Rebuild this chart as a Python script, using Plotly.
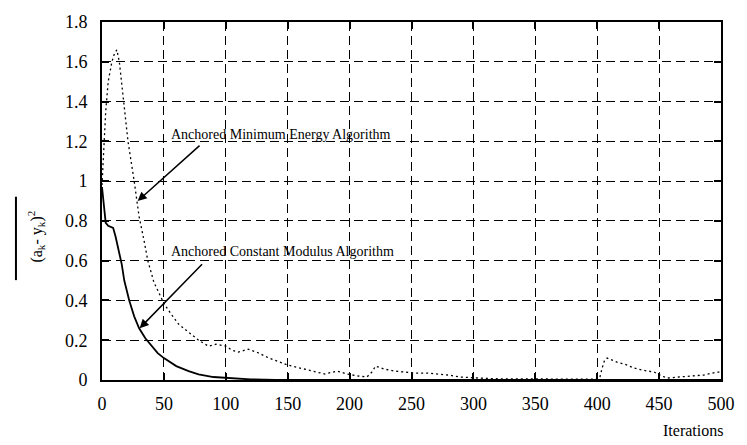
import plotly.graph_objects as go

# Anchored Minimum Energy Algorithm (dotted trace)
ame_iter = [0, 1, 2, 3, 5, 8, 10, 12, 14, 17, 21, 26, 30, 34, 37, 42, 50, 56, 62, 70,
            78, 86, 92, 100, 105, 110, 118, 125, 135, 150, 160, 170, 180, 190, 198,
            207, 214, 218, 221, 228, 236, 244, 252, 262, 270, 280, 289, 300, 310, 320,
            342, 360, 380, 395, 400, 402, 404, 406, 408, 412, 416, 422, 430, 436, 446,
            452, 457, 466, 476, 486, 497, 500]
ame_err = [0.98, 1.1, 1.25, 1.35, 1.5, 1.6, 1.64, 1.66, 1.6, 1.42, 1.2, 1.0, 0.82, 0.7,
           0.6, 0.49, 0.385, 0.33, 0.28, 0.24, 0.20, 0.17, 0.18, 0.17, 0.15, 0.14, 0.155,
           0.14, 0.11, 0.075, 0.06, 0.045, 0.03, 0.045, 0.03, 0.02, 0.015, 0.04, 0.07,
           0.055, 0.045, 0.04, 0.035, 0.035, 0.03, 0.025, 0.015, 0.01, 0.008, 0.006,
           0.005, 0.004, 0.005, 0.004, 0.006, 0.01, 0.06, 0.1, 0.11, 0.1, 0.09, 0.08,
           0.06, 0.05, 0.04, 0.02, 0.01, 0.015, 0.02, 0.025, 0.04, 0.04]

# Anchored Constant Modulus Algorithm (solid trace)
acm_iter = [0, 1, 2, 3, 5, 9, 11, 13, 16, 18, 22, 26, 30, 35, 40, 45, 50, 60, 70, 78,
            90, 100, 110, 120, 140, 200, 300, 400, 500]
acm_err = [0.97, 0.9, 0.82, 0.79, 0.775, 0.765, 0.72, 0.66, 0.58, 0.5, 0.4, 0.32, 0.26,
           0.21, 0.17, 0.135, 0.11, 0.07, 0.045, 0.028, 0.015, 0.01, 0.005, 0.003,
           0.001, 0.0, 0.0, 0.0, 0.0]

x_ticks = [0, 50, 100, 150, 200, 250, 300, 350, 400, 450, 500]
y_ticks = [0, 0.2, 0.4, 0.6, 0.8, 1, 1.2, 1.4, 1.6, 1.8]
y_tick_text = ["0", "0.2", "0.4", "0.6", "0.8", "1", "1.2", "1.4", "1.6", "1.8"]

FONT = "Times New Roman, Liberation Serif, serif"

fig = go.Figure()
fig.add_trace(go.Scatter(x=ame_iter, y=ame_err, mode="lines",
                         line=dict(color="black", width=1.3, dash="2px,3px"),
                         name="AMEA", showlegend=False))
fig.add_trace(go.Scatter(x=acm_iter, y=acm_err, mode="lines",
                         line=dict(color="black", width=1.8),
                         name="ACMA", showlegend=False))

axis_common = dict(
    showline=True, linecolor="black", linewidth=1.8, mirror="ticks",
    ticks="inside", ticklen=7, tickcolor="black", tickwidth=1.5,
    showgrid=True, gridcolor="black", gridwidth=1, griddash="9px,5px",
    zeroline=False, tickfont=dict(family=FONT, size=18, color="black"),
)

fig.update_xaxes(range=[0, 500], tickvals=x_ticks, ticklabelstandoff=6, **axis_common)
fig.update_yaxes(range=[0, 1.8], tickvals=y_ticks, ticktext=y_tick_text,
                 ticklabelstandoff=9, **axis_common)

# Curve labels and pointer arrows
fig.add_annotation(x=54, y=1.235, xref="x", yref="y", xanchor="left", yanchor="middle",
                   text="Anchored Minimum Energy Algorithm", showarrow=False,
                   font=dict(family=FONT, size=14, color="black"))
fig.add_annotation(x=28.8, y=0.90, ax=80, ay=1.185, xref="x", yref="y",
                   axref="x", ayref="y", text="", showarrow=True,
                   arrowhead=2, arrowsize=1.2, arrowwidth=1.5, arrowcolor="black")
fig.add_annotation(x=54, y=0.647, xref="x", yref="y", xanchor="left", yanchor="middle",
                   text="Anchored Constant Modulus Algorithm", showarrow=False,
                   font=dict(family=FONT, size=14, color="black"))
fig.add_annotation(x=30.4, y=0.26, ax=82, ay=0.59, xref="x", yref="y",
                   axref="x", ayref="y", text="", showarrow=True,
                   arrowhead=2, arrowsize=1.2, arrowwidth=1.5, arrowcolor="black")

# Axis titles
fig.add_annotation(x=0.955, y=-0.142, xref="paper", yref="paper",
                   xanchor="center", yanchor="middle",
                   text="Iterations", showarrow=False,
                   font=dict(family=FONT, size=16, color="black"))
fig.add_annotation(x=-0.107, y=0.40, xref="paper", yref="paper", textangle=-90,
                   xanchor="center", yanchor="middle",
                   text="(a<sub>k</sub>- y<sub>k</sub>)<sup>2</sup>", showarrow=False,
                   font=dict(family=FONT, size=16, color="black"))
# overbar of the mean-square error symbol
fig.add_shape(type="line", xref="paper", yref="paper",
              x0=-0.139, x1=-0.139, y0=0.279, y1=0.512,
              line=dict(color="black", width=2))

fig.update_layout(
    width=747, height=445,
    margin=dict(l=102, r=19, t=15, b=65),
    paper_bgcolor="white", plot_bgcolor="white",
    font=dict(family=FONT, color="black"),
)

fig.write_html("out.html")
